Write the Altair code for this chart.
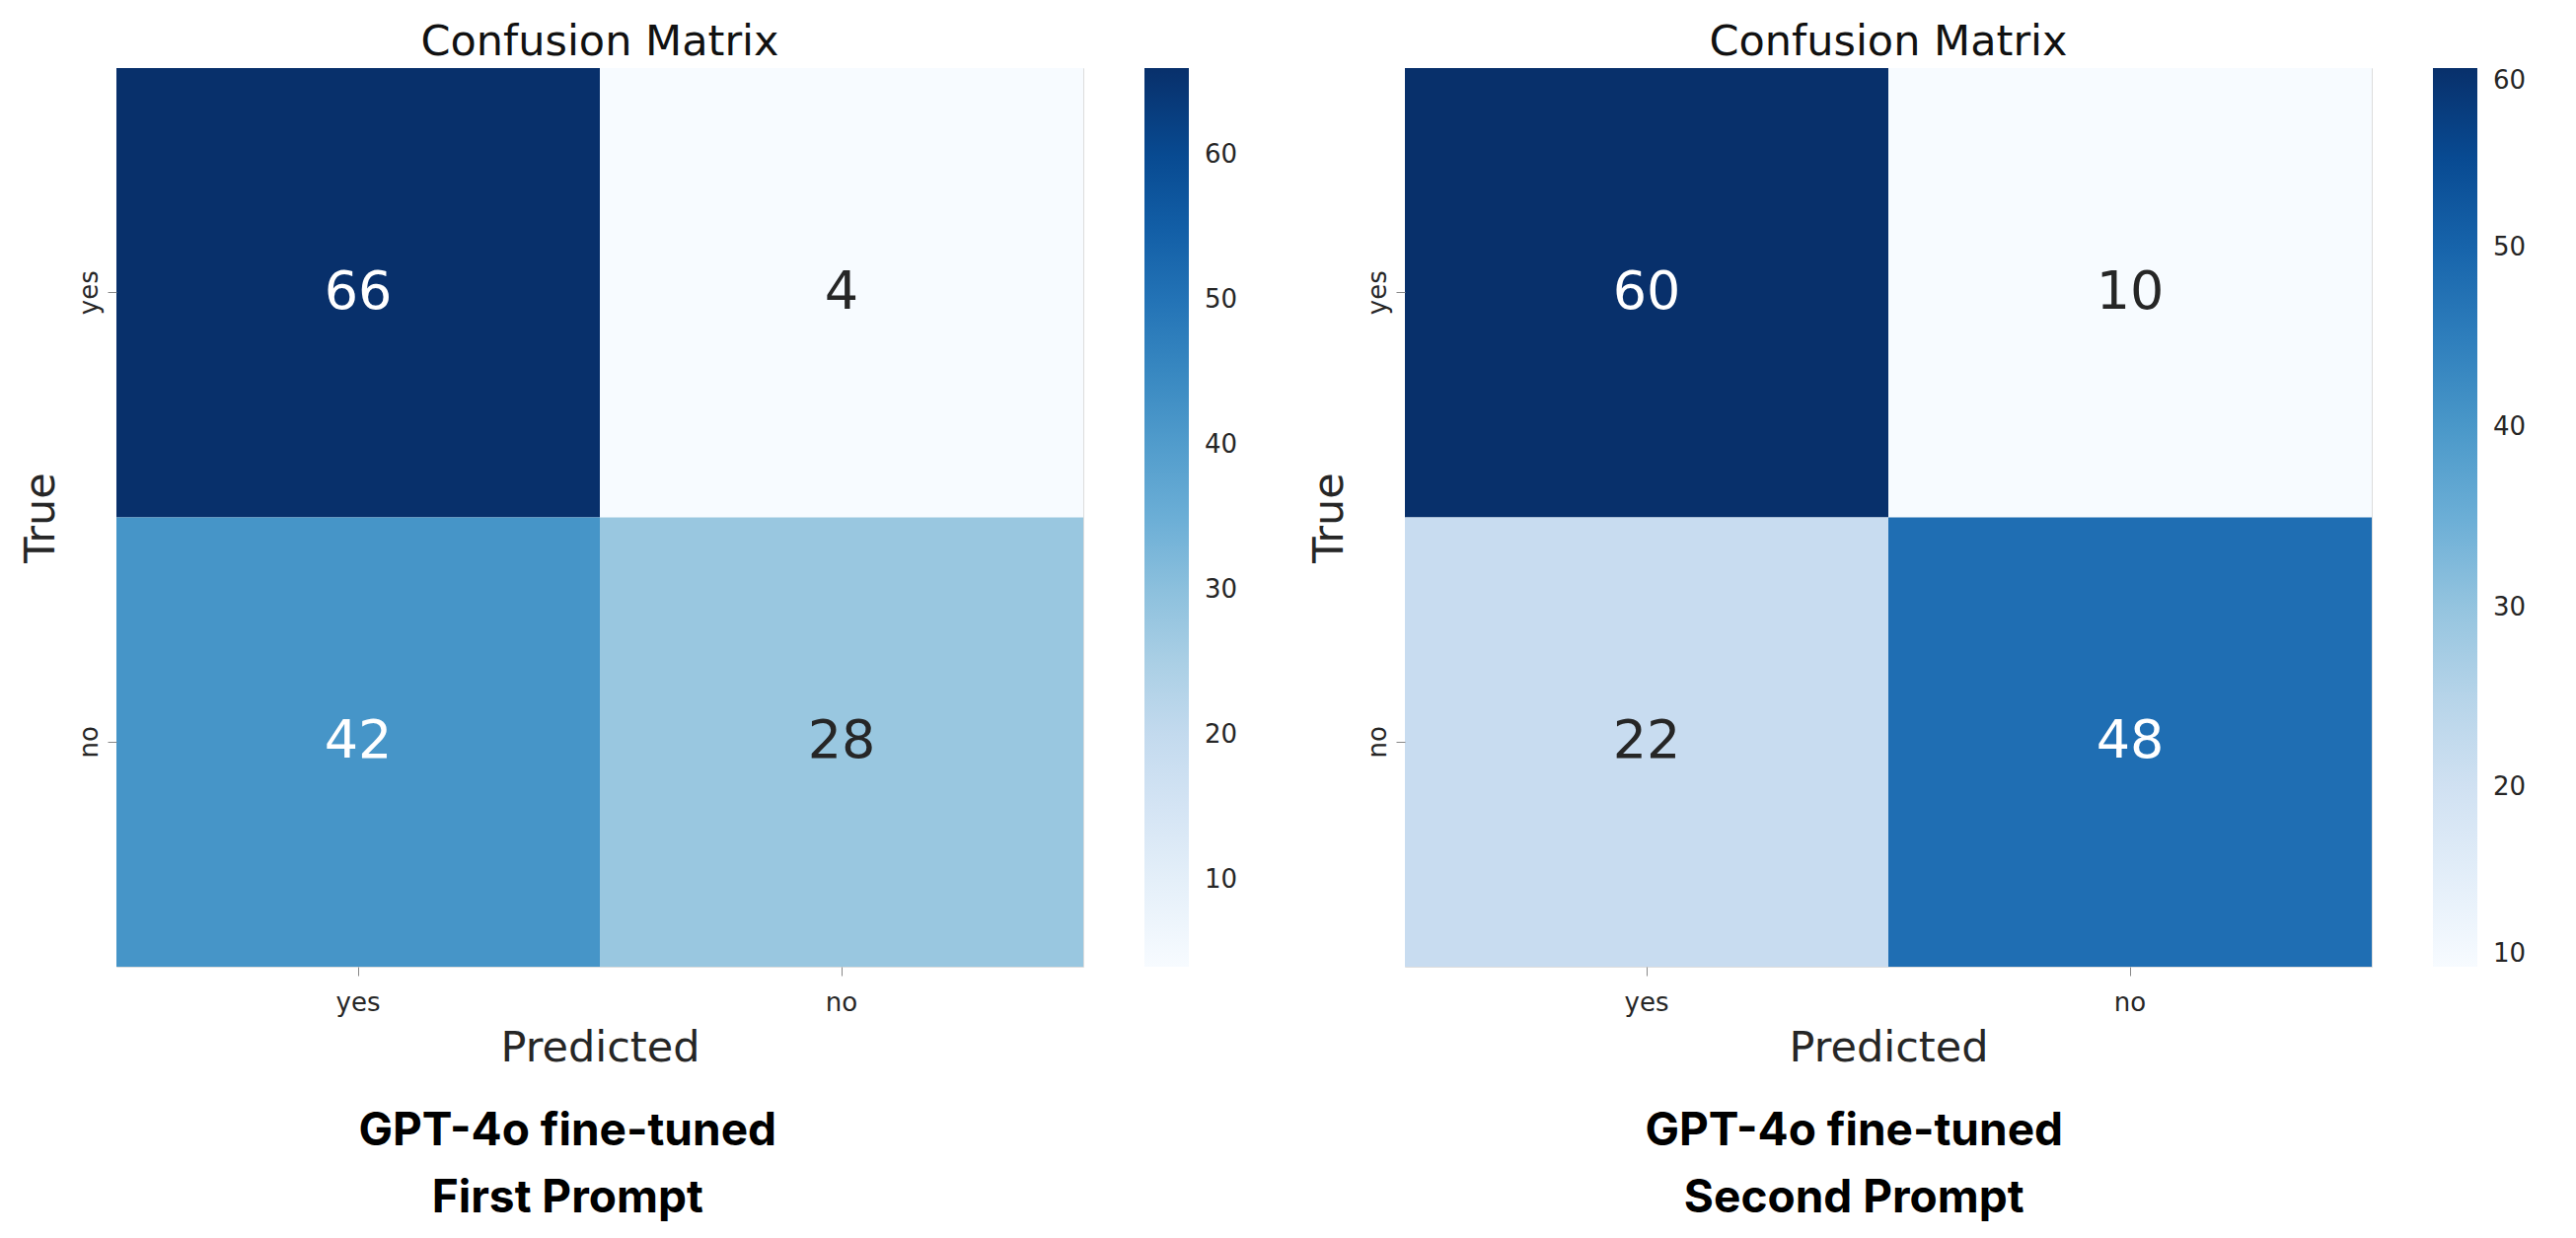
import altair as alt
import pandas as pd
import numpy as np

labels = ["yes", "no"]
first_values = [[66, 4], [42, 28]]
second_values = [[60, 10], [22, 48]]
first_ticks = [10, 20, 30, 40, 50, 60]
second_ticks = [10, 20, 30, 40, 50, 60]
blues = ["#f7fbff", "#deebf7", "#c6dbef", "#9ecae1", "#6baed6",
         "#4292c6", "#2171b5", "#08519c", "#08306b"]
first_caption = ["GPT-4o fine-tuned", "First Prompt"]
second_caption = ["GPT-4o fine-tuned", "Second Prompt"]


def to_frame(values):
    rows = []
    for i, t in enumerate(labels):
        for j, p in enumerate(labels):
            rows.append({"true": t, "pred": p, "value": values[i][j]})
    return pd.DataFrame(rows)


def panel(values, ticks, caption, dx):
    df = to_frame(values)
    vmin = float(np.min(values))
    vmax = float(np.max(values))
    dom = list(np.linspace(vmin, vmax, len(blues)))
    base = alt.Chart(df).encode(
        x=alt.X("pred:N", sort=labels, title="Predicted",
                axis=alt.Axis(labelAngle=0, labelFontSize=26, titleFontSize=43,
                              tickSize=9, labelPadding=14, titlePadding=12,
                              domain=False, labelColor="#262626",
                              titleColor="#262626", labelFont="DejaVu Sans",
                              titleFont="DejaVu Sans", titleFontWeight="normal")),
        y=alt.Y("true:N", sort=labels, title="True",
                axis=alt.Axis(labelAngle=270, labelFontSize=26, titleFontSize=43,
                              tickSize=9, labelPadding=6, titlePadding=14,
                              domain=False, labelColor="#262626",
                              titleColor="#262626", labelFont="DejaVu Sans",
                              titleFont="DejaVu Sans", titleFontWeight="normal")),
    )
    rect = base.mark_rect().encode(
        color=alt.Color("value:Q",
                        scale=alt.Scale(domain=dom, range=blues, interpolate="rgb"),
                        legend=alt.Legend(title=None, values=ticks, direction="vertical",
                                          gradientLength=911, gradientThickness=45,
                                          gradientStrokeWidth=0, labelFontSize=26,
                                          labelFont="DejaVu Sans", labelColor="#262626",
                                          labelOffset=16, labelOverlap=False,
                                          labelBaseline="middle", offset=61))
    )
    text = base.mark_text(fontSize=54, font="DejaVu Sans").transform_calculate(
        norm=f"(datum.value - {vmin}) / ({vmax} - {vmin})"
    ).encode(
        text="value:Q",
        color=alt.condition("datum.norm > 0.5", alt.value("#ffffff"), alt.value("#262626")),
    )
    layer = alt.layer(rect, text).properties(
        width=980, height=911,
        title=alt.TitleParams("Confusion Matrix", fontSize=43, font="DejaVu Sans",
                              fontWeight="normal", color="#111111", frame="group",
                              anchor="middle", offset=4),
    )
    return alt.vconcat(layer).properties(
        title=alt.TitleParams(caption, orient="bottom", fontSize=46, font="Inter",
                              fontWeight=700, lineHeight=68, color="#000000",
                              anchor="middle", dx=dx, offset=40)
    )


chart = alt.hconcat(
    panel(first_values, first_ticks, first_caption, -62),
    panel(second_values, second_ticks, second_caption, -64),
    spacing=70,
).resolve_scale(color="independent").configure_view(stroke=None).configure(
    padding={"left": 11, "top": 13, "right": 5, "bottom": 0}
)

chart.save("out.html", embed_options={"renderer": "svg", "actions": False})
